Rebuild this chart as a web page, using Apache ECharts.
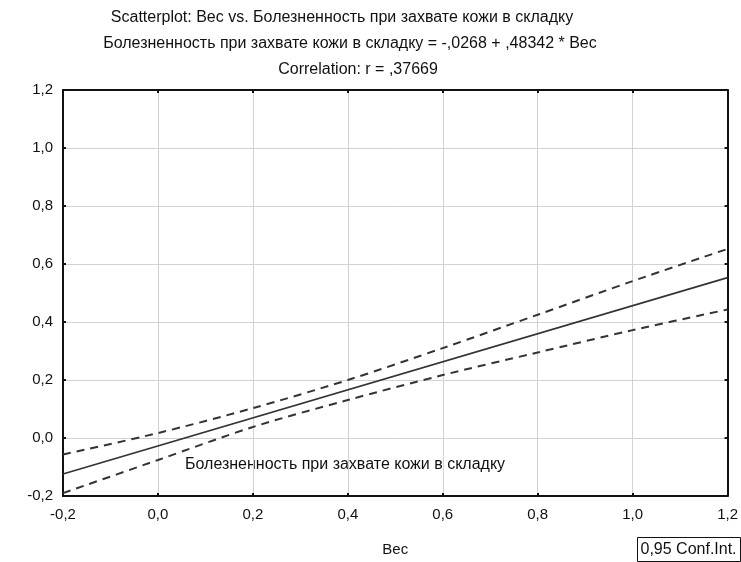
<!DOCTYPE html>
<html>
<head>
<meta charset="utf-8">
<script src="https://cdn.jsdelivr.net/npm/echarts@6/dist/echarts.min.js"></script>
<style>
html,body{margin:0;padding:0;background:#fff;}
#c{width:741px;height:562px;}
</style>
</head>
<body>
<div id="c"></div>
<script>
// Data
var titleLines = [
  'Scatterplot: Вес vs. Болезненность при захвате кожи в складку',
  'Болезненность при захвате кожи в складку = -,0268 + ,48342 * Вес',
  'Correlation: r = ,37669'
];
var xName = 'Вес';
var lineLabel = 'Болезненность при захвате кожи в складку';
var legendText = '0,95 Conf.Int.';

var fitX = [-0.2, 1.2];
var fitY = [-0.124, 0.553];

var bandX = [-0.2, 0.0, 0.2, 0.4, 0.6, 0.8, 1.0, 1.2];
var upperY = [-0.057, 0.017, 0.103, 0.200, 0.310, 0.425, 0.541, 0.652];
var lowerY = [-0.190, -0.076, 0.038, 0.131, 0.217, 0.295, 0.372, 0.443];

var xMin = -0.2, xMax = 1.2, xStep = 0.2;
var yMin = -0.2, yMax = 1.2, yStep = 0.2;

function pairs(xs, ys){ return xs.map(function(x,i){ return [x, ys[i]]; }); }
function fmt(v){ return v.toFixed(1).replace('.', ','); }

var FONT = '"Liberation Sans", Arial, sans-serif';
var axisLine = {show:true, onZero:false, lineStyle:{color:'#111', width:2}};
var tick = {show:true, inside:true, length:3, lineStyle:{color:'#111', width:2}};
var split = {show:true, lineStyle:{color:'#d2d2d2', width:1}};

var chart = echarts.init(document.getElementById('c'), null, {renderer:'canvas'});
chart.setOption({
  animation:false,
  backgroundColor:'#fff',
  grid:{left:63, right:10, top:90, bottom:66, containLabel:false},
  xAxis:[
    {type:'value', position:'bottom', min:xMin, max:xMax, interval:xStep,
     axisLine:axisLine, axisTick:tick, splitLine:split,
     axisLabel:{formatter:fmt, color:'#111', fontFamily:FONT, fontSize:15, margin:11},
     name:xName, nameLocation:'middle', nameGap:46,
     nameTextStyle:{color:'#111', fontFamily:FONT, fontSize:15}},
    {type:'value', position:'top', min:xMin, max:xMax, interval:xStep,
     axisLine:axisLine, axisTick:tick, splitLine:{show:false}, axisLabel:{show:false}}
  ],
  yAxis:[
    {type:'value', position:'left', min:yMin, max:yMax, interval:yStep,
     axisLine:axisLine, axisTick:tick, splitLine:split,
     axisLabel:{formatter:fmt, color:'#111', fontFamily:FONT, fontSize:15, margin:10}},
    {type:'value', position:'right', min:yMin, max:yMax, interval:yStep,
     axisLine:axisLine, axisTick:tick, splitLine:{show:false}, axisLabel:{show:false}}
  ],
  series:[
    {type:'line', data:pairs(fitX, fitY), showSymbol:false, silent:true,
     lineStyle:{color:'#333', width:1.6}},
    {type:'line', data:pairs(bandX, upperY), smooth:0.3, showSymbol:false, silent:true,
     lineStyle:{color:'#333', width:2, type:[8,6]}},
    {type:'line', data:pairs(bandX, lowerY), smooth:0.3, showSymbol:false, silent:true,
     lineStyle:{color:'#333', width:2, type:[8,6]}}
  ],
  graphic:[
    {type:'text', x:342, y:10, style:{text:titleLines[0], fill:'#111', font:'16px '+FONT, textAlign:'center'}},
    {type:'text', x:350, y:36, style:{text:titleLines[1], fill:'#111', font:'16px '+FONT, textAlign:'center'}},
    {type:'text', x:358, y:62, style:{text:titleLines[2], fill:'#111', font:'16px '+FONT, textAlign:'center'}},
    {type:'text', x:185, y:457, style:{text:lineLabel, fill:'#111', font:'16px '+FONT}},
    {type:'group', left:637, top:537, children:[
      {type:'rect', shape:{x:0, y:0, width:103, height:24}, style:{fill:'#fff', stroke:'#111', lineWidth:1}},
      {type:'text', x:3, y:4, style:{text:legendText, fill:'#111', font:'16px '+FONT}}
    ]}
  ]
});
</script>
</body>
</html>
